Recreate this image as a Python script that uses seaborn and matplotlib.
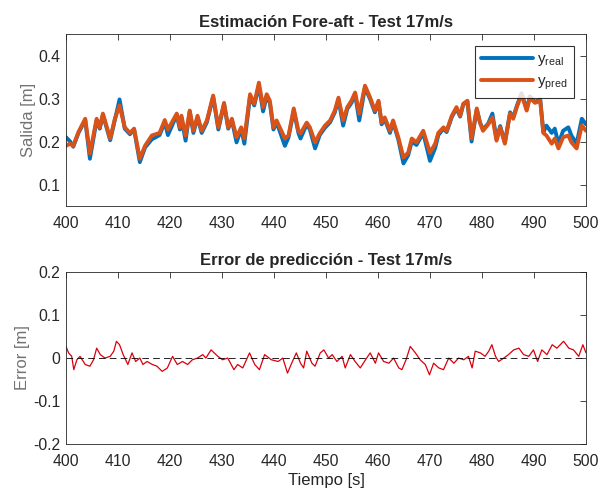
import numpy as np
import pandas as pd
import seaborn as sns
import matplotlib.pyplot as plt

# valores
t_top = [400.0, 400.8, 401.4, 402.4, 403.7, 404.6, 405.9, 406.5, 407.1, 408.5,
         409.4, 410.3, 411.3, 412.3, 413.1, 414.2, 415.2, 416.5, 418.0, 419.0,
         419.6, 421.3, 421.9, 422.2, 423.0, 423.8, 424.5, 425.3, 426.1, 427.1,
         428.3, 429.3, 430.4, 431.2, 431.9, 432.8, 433.7, 434.3, 435.4, 436.2,
         437.1, 437.9, 438.6, 439.2, 439.9, 440.5, 442.1, 442.8, 443.8, 444.7,
         445.1, 446.3, 446.9, 447.9, 448.8, 449.8, 450.8, 451.7, 452.4, 453.3,
         454.1, 454.9, 455.6, 456.4, 457.5, 458.5, 459.4, 460.1, 460.7, 461.3,
         462.3, 462.9, 463.9, 464.9, 465.8, 466.5, 467.4, 468.7, 470.0, 471.0,
         471.6, 472.6, 473.2, 474.2, 475.1, 475.8, 476.4, 477.2, 478.0, 479.0,
         479.6, 480.2, 481.2, 482.0, 482.8, 483.5, 484.4, 485.4, 486.0, 486.7,
         487.6, 488.6, 489.2, 490.2, 491.2, 491.8, 492.4, 493.4, 494.0, 494.7,
         495.6, 496.6, 497.2, 498.2, 499.2, 500.0]

y_real = [0.210, 0.200, 0.188, 0.220, 0.250, 0.160, 0.250, 0.230, 0.262, 0.203,
          0.250, 0.298, 0.230, 0.217, 0.228, 0.152, 0.186, 0.205, 0.215, 0.245,
          0.215, 0.262, 0.228, 0.256, 0.202, 0.270, 0.220, 0.256, 0.220, 0.245,
          0.304, 0.228, 0.287, 0.230, 0.250, 0.198, 0.230, 0.195, 0.305, 0.284,
          0.330, 0.270, 0.305, 0.290, 0.228, 0.245, 0.190, 0.210, 0.272, 0.220,
          0.207, 0.240, 0.228, 0.184, 0.215, 0.232, 0.245, 0.268, 0.298, 0.237,
          0.276, 0.290, 0.310, 0.249, 0.326, 0.298, 0.268, 0.292, 0.240, 0.252,
          0.220, 0.245, 0.205, 0.149, 0.168, 0.200, 0.192, 0.220, 0.155, 0.185,
          0.215, 0.230, 0.222, 0.257, 0.277, 0.258, 0.286, 0.293, 0.200, 0.275,
          0.245, 0.228, 0.242, 0.265, 0.205, 0.236, 0.198, 0.268, 0.256, 0.283,
          0.312, 0.275, 0.305, 0.292, 0.298, 0.222, 0.237, 0.220, 0.230, 0.195,
          0.225, 0.233, 0.214, 0.195, 0.253, 0.240]

y_pred = [0.190, 0.195, 0.190, 0.222, 0.253, 0.172, 0.253, 0.233, 0.265, 0.207,
          0.253, 0.284, 0.233, 0.220, 0.230, 0.160, 0.190, 0.214, 0.220, 0.250,
          0.228, 0.265, 0.233, 0.260, 0.214, 0.272, 0.225, 0.260, 0.225, 0.249,
          0.307, 0.233, 0.290, 0.233, 0.253, 0.210, 0.233, 0.207, 0.310, 0.288,
          0.337, 0.280, 0.310, 0.295, 0.233, 0.249, 0.207, 0.214, 0.277, 0.225,
          0.219, 0.244, 0.233, 0.198, 0.219, 0.237, 0.249, 0.272, 0.302, 0.249,
          0.280, 0.295, 0.314, 0.265, 0.330, 0.302, 0.272, 0.295, 0.244, 0.256,
          0.225, 0.249, 0.210, 0.163, 0.174, 0.207, 0.198, 0.225, 0.174, 0.195,
          0.220, 0.233, 0.225, 0.260, 0.280, 0.260, 0.288, 0.295, 0.207, 0.277,
          0.244, 0.225, 0.240, 0.256, 0.202, 0.233, 0.195, 0.265, 0.253, 0.280,
          0.310, 0.272, 0.302, 0.290, 0.295, 0.220, 0.214, 0.195, 0.207, 0.184,
          0.210, 0.214, 0.198, 0.184, 0.237, 0.225]

t_err = [400.0, 400.5, 401.1, 401.5, 402.1, 402.7, 403.7, 404.6, 405.3, 405.9,
         406.6, 407.5, 408.5, 409.2, 409.7, 410.3, 411.0, 411.9, 412.7, 413.4,
         414.2, 414.8, 415.6, 416.6, 417.5, 418.5, 419.5, 420.5, 421.4, 422.4,
         423.4, 424.3, 425.3, 426.3, 426.9, 427.9, 428.5, 429.2, 430.1, 431.1,
         432.3, 433.0, 434.0, 435.3, 436.3, 437.2, 438.2, 439.5, 440.8, 441.7,
         442.6, 443.4, 444.3, 445.1, 445.7, 446.3, 447.3, 447.9, 448.9, 449.6,
         450.5, 451.2, 452.1, 453.1, 453.7, 454.7, 455.6, 456.6, 457.6, 458.5,
         459.5, 460.1, 461.1, 462.1, 463.0, 464.0, 464.6, 465.4, 466.2, 467.2,
         468.1, 469.1, 469.9, 470.7, 471.7, 472.6, 473.6, 474.6, 475.5, 476.5,
         477.4, 478.1, 478.7, 479.7, 480.6, 481.3, 481.9, 482.6, 483.2, 484.2,
         485.1, 486.1, 487.1, 488.0, 489.0, 489.9, 490.7, 491.5, 492.5, 493.5,
         494.4, 495.7, 496.7, 497.6, 498.6, 499.4, 500.0]

error = [0.027, 0.012, 0.004, -0.027, -0.004, 0.004, -0.015, -0.019, -0.004, 0.023,
         0.008, 0.000, 0.004, 0.016, 0.039, 0.031, 0.008, -0.015, 0.012, -0.008,
         0.000, -0.015, -0.008, -0.015, -0.019, -0.031, -0.023, 0.004, -0.015, -0.008,
         -0.015, -0.004, 0.000, 0.008, 0.000, 0.019, 0.012, 0.004, -0.004, 0.000,
         -0.027, -0.015, -0.023, 0.012, -0.015, -0.027, 0.008, -0.004, -0.008, 0.000,
         -0.035, -0.012, 0.012, -0.012, -0.023, 0.016, -0.012, -0.019, 0.012, 0.019,
         0.000, 0.008, -0.008, 0.004, -0.023, 0.008, -0.008, -0.023, -0.004, 0.012,
         -0.012, 0.012, -0.008, -0.012, 0.000, -0.023, -0.027, -0.004, 0.027, 0.012,
         -0.004, -0.015, -0.039, -0.012, -0.023, -0.027, 0.000, -0.012, 0.000, -0.004,
         0.004, -0.023, 0.016, 0.012, 0.004, 0.016, 0.031, 0.004, -0.008, 0.000,
         0.008, 0.019, 0.023, 0.008, 0.004, 0.019, -0.008, 0.019, 0.008, 0.031,
         0.023, 0.039, 0.023, 0.019, 0.004, 0.031, 0.012]

x_ticks = [400, 410, 420, 430, 440, 450, 460, 470, 480, 490, 500]

df_top = pd.DataFrame({'t': t_top, 'real': y_real, 'pred': y_pred})
df_err = pd.DataFrame({'t': t_err, 'err': error})

sns.set_style('white')
plt.rcParams['font.family'] = ['Liberation Sans', 'DejaVu Sans']
plt.rcParams['mathtext.fontset'] = 'custom'
plt.rcParams['mathtext.rm'] = 'Liberation Sans'

azul = (0.0, 0.447, 0.741)
naranja = (0.85, 0.325, 0.098)
gris = (0.15, 0.15, 0.15)

fig = plt.figure(figsize=(6.02, 4.94), dpi=100)
ax1 = fig.add_axes([0.1096, 0.583, 0.8638, 0.348])
ax2 = fig.add_axes([0.1096, 0.1012, 0.8638, 0.348])

sns.lineplot(data=df_top, x='t', y='real', ax=ax1, color=azul, lw=2.8,
             label=r'y$_{\mathrm{real}}$')
sns.lineplot(data=df_top, x='t', y='pred', ax=ax1, color=naranja, lw=2.8,
             label=r'y$_{\mathrm{pred}}$')
ax1.set_xlim(400, 500)
ax1.set_ylim(0.05, 0.45)
ax1.set_yticks([0.1, 0.2, 0.3, 0.4])
ax1.set_title('Estimación Fore-aft - Test 17m/s', fontsize=12, fontweight='bold', pad=5)
ax1.set_ylabel('Salida [m]', fontsize=12, color='0.45', labelpad=2)
ax1.set_xlabel('')
leg = ax1.legend(loc='upper right', fontsize=11, frameon=True, fancybox=False,
                 handlelength=3.4, handletextpad=0.3, borderaxespad=0.8,
                 labelspacing=0.4, borderpad=0.4)
leg.get_frame().set_edgecolor('black')
leg.get_frame().set_linewidth(0.8)

sns.lineplot(data=df_err, x='t', y='err', ax=ax2, color=(0.85, 0.0, 0.05), lw=0.9)
ax2.axhline(0, color='black', lw=0.6, ls=(0, (8, 5)))
ax2.set_xlim(400, 500)
ax2.set_ylim(-0.2, 0.2)
ax2.set_yticks([-0.2, -0.1, 0, 0.1, 0.2])
ax2.set_yticklabels(['-0.2', '-0.1', '0', '0.1', '0.2'])
ax2.set_title('Error de predicción - Test 17m/s', fontsize=12, fontweight='bold', pad=5)
ax2.set_ylabel('Error [m]', fontsize=12, color='0.45', labelpad=2)
ax2.set_xlabel('Tiempo [s]', fontsize=12, color=gris, labelpad=3)

for ax in (ax1, ax2):
    ax.set_xticks(x_ticks)
    ax.tick_params(direction='in', length=4, width=0.6, top=True, right=True,
                   labelsize=11.3, colors=gris)
    ax.tick_params(axis='x', pad=7)
    ax.tick_params(axis='y', pad=4)
    for s in ax.spines.values():
        s.set_visible(True)
        s.set_color('0.15')
        s.set_linewidth(0.6)

plt.savefig('out.png', dpi=100)
